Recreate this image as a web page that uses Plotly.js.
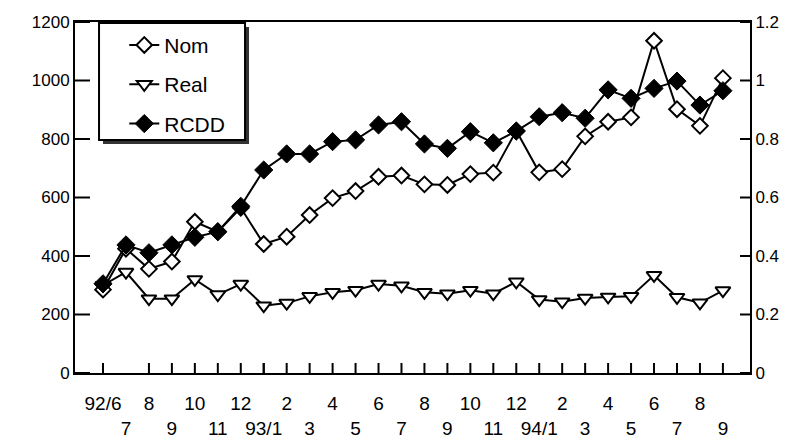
<!DOCTYPE html>
<html>
<head>
<meta charset="utf-8">
<script src="https://cdn.plot.ly/plotly-3.0.1.min.js"></script>
<style>
  html, body { margin: 0; padding: 0; background: #fff; }
  #chart { width: 797px; height: 440px; }
</style>
</head>
<body>
<div id="chart"></div>
<script>
// Monthly observations, June 1992 to September 1994
const months = ["92/6","7","8","9","10","11","12","93/1","2","3","4","5","6","7b","8b","9b","10b","11b","12b","94/1","2b","3b","4b","5b","6b","7c","8c","9c"];
const monthLabels = ["92/6","7","8","9","10","11","12","93/1","2","3","4","5","6","7","8","9","10","11","12","94/1","2","3","4","5","6","7","8","9"];

// Left axis series
const nom  = [285, 425, 356, 381, 517, 483, 565, 441, 466, 540, 598, 622, 671, 675, 645, 643, 680, 685, 828, 686, 697, 809, 859, 874, 1136, 902, 845, 1008];
const real = [300, 345, 254, 254, 320, 268, 304, 230, 239, 262, 276, 283, 304, 298, 276, 271, 283, 271, 312, 251, 244, 256, 260, 262, 334, 259, 240, 282];

// Right axis series
const rcdd = [0.305, 0.438, 0.411, 0.438, 0.464, 0.483, 0.570, 0.694, 0.749, 0.749, 0.791, 0.797, 0.848, 0.859, 0.783, 0.768, 0.825, 0.787, 0.827, 0.876, 0.890, 0.871, 0.968, 0.939, 0.973, 0.998, 0.916, 0.965];

// Axis tick values
const leftTicks = [0, 200, 400, 600, 800, 1000, 1200];
const rightTicks = [0, 0.2, 0.4, 0.6, 0.8, 1, 1.2];

// Two-row tick labels: even months on the first row, odd months on the second
const tickText = monthLabels.map((m, i) => i % 2 === 0 ? m : "\u00a0<br>" + m);

const FONT = '"Liberation Sans", Arial, Helvetica, sans-serif';

// Plot area size in pixels (used to express inward tick lengths as fractions)
const PLOT_W = 675, PLOT_H = 351;

const traces = [
  {
    x: months, y: nom, name: "Nom", type: "scatter", mode: "lines+markers",
    legendgroup: "a",
    line: { color: "#000", width: 2 },
    marker: { symbol: "diamond", size: 12, color: "#fff", line: { color: "#000", width: 2 } }
  },
  {
    x: months, y: real, name: "Real", type: "scatter", mode: "lines+markers",
    legendgroup: "b",
    line: { color: "#000", width: 2 },
    marker: { symbol: "triangle-down", size: 13, color: "#fff", line: { color: "#000", width: 2 } }
  },
  {
    x: months, y: rcdd, name: "RCDD", type: "scatter", mode: "lines+markers",
    yaxis: "y2", legendgroup: "c",
    line: { color: "#000", width: 2 },
    marker: { symbol: "diamond", size: 14, color: "#000", line: { color: "#000", width: 1 } }
  }
];

// Inward tick marks, placed on the axis values
const tickLine = { color: "#000", width: 2 };
const tickShapes = [].concat(
  months.map(m => ({
    type: "line", layer: "above", xref: "x", yref: "paper",
    x0: m, x1: m, y0: 0, y1: 10 / PLOT_H, line: tickLine
  })),
  leftTicks.map(v => ({
    type: "line", layer: "above", xref: "paper", yref: "y",
    y0: v, y1: v, x0: 0, x1: 15 / PLOT_W, line: tickLine
  })),
  rightTicks.map(v => ({
    type: "line", layer: "above", xref: "paper", yref: "y2",
    y0: v, y1: v, x0: 1 - 10 / PLOT_W, x1: 1, line: tickLine
  }))
);

const layout = {
  width: 797, height: 440,
  margin: { l: 75, r: 47, t: 22, b: 67 },
  paper_bgcolor: "#fff", plot_bgcolor: "#fff",
  font: { family: FONT, color: "#000", size: 17 },
  showlegend: true,
  legend: {
    x: 0.073, y: 0.992, xanchor: "left", yanchor: "top",
    bgcolor: "rgba(0,0,0,0)", borderwidth: 0,
    font: { family: FONT, size: 21, color: "#000" },
    tracegroupgap: 9
  },
  xaxis: {
    type: "category",
    categoryorder: "array", categoryarray: months,
    range: [-1.22, 28.18],
    tickmode: "array", tickvals: months, ticktext: tickText,
    ticks: "", tickangle: 0,
    tickfont: { family: FONT, size: 19, color: "#000" },
    ticklabelstandoff: 12,
    showline: true, linecolor: "#000", linewidth: 2, mirror: true,
    showgrid: false, zeroline: false
  },
  yaxis: {
    range: [0, 1200], tickmode: "array", tickvals: leftTicks,
    ticks: "",
    tickfont: { family: FONT, size: 17, color: "#000" },
    ticksuffix: "\u2009\u2009\u2009\u2009",
    showline: true, linecolor: "#000", linewidth: 2,
    showgrid: false, zeroline: false
  },
  yaxis2: {
    overlaying: "y", side: "right",
    range: [0, 1.2], tickmode: "array", tickvals: rightTicks,
    ticks: "",
    tickfont: { family: FONT, size: 17, color: "#000" },
    tickprefix: "\u2009\u2009\u2009",
    showline: true, linecolor: "#000", linewidth: 2,
    showgrid: false, zeroline: false
  },
  shapes: tickShapes.concat([
    // drop shadow of the legend panel
    { type: "rect", xref: "paper", yref: "paper", layer: "above",
      x0: 0.0415, x1: 0.2578, y0: 0.6524, y1: 0.9858,
      fillcolor: "#333", line: { width: 0 } },
    // legend panel
    { type: "rect", xref: "paper", yref: "paper", layer: "above",
      x0: 0.0356, x1: 0.2519, y0: 0.6638, y1: 0.9972,
      fillcolor: "#fff", line: { color: "#000", width: 2 } }
  ])
};

Plotly.newPlot("chart", traces, layout, { staticPlot: true, displayModeBar: false });
</script>
</body>
</html>
